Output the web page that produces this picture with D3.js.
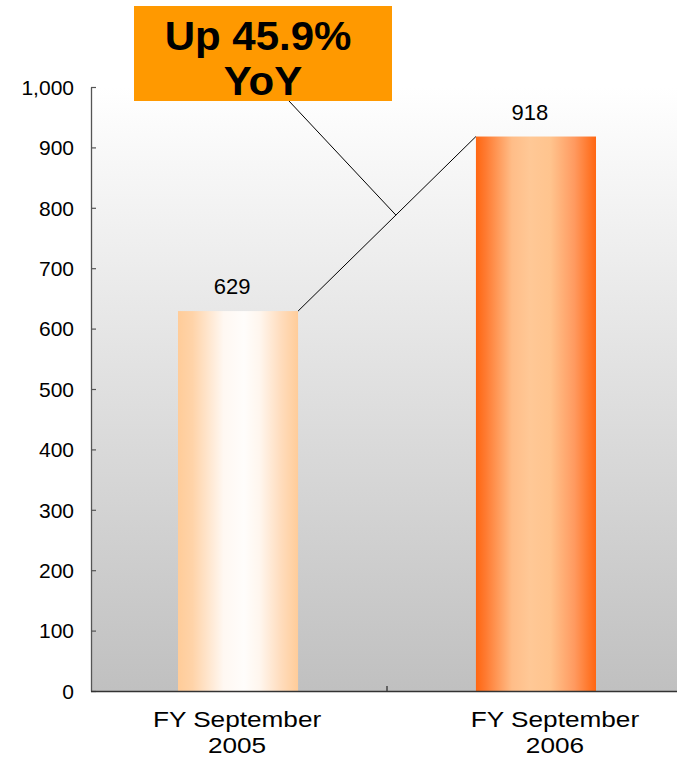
<!DOCTYPE html>
<html><head><meta charset="utf-8">
<script src="https://cdn.jsdelivr.net/npm/d3@7"></script>
<style>
body{margin:0;background:#fff;}
svg{display:block;font-family:Arial,"Liberation Sans",sans-serif;}
</style>
</head><body>
<svg id="c" width="677" height="765"></svg>
<script>
// ---- data ----
const categories = ["FY September 2005", "FY September 2006"];
const categoryLines = [["FY September", "2005"], ["FY September", "2006"]];
const values = [629, 918];
const yTicks = [0, 100, 200, 300, 400, 500, 600, 700, 800, 900, 1000];
const calloutLines = ["Up 45.9%", "YoY"];

// ---- layout ----
const svg = d3.select("#c");
const L = 91, R = 683, T = 87, B = 691;
const y = d3.scaleLinear().domain([0, 1000]).range([B, T]);
const x = d3.scaleBand().domain(categories).range([L, R]).paddingInner(0.597).paddingOuter(0.292);

const defs = svg.append("defs");
const bg = defs.append("linearGradient").attr("id", "bg").attr("x1", 0).attr("y1", 0).attr("x2", 0).attr("y2", 1);
bg.append("stop").attr("offset", "0%").attr("stop-color", "#ffffff");
bg.append("stop").attr("offset", "100%").attr("stop-color", "#c0c0c0");

const g1 = defs.append("linearGradient").attr("id", "bar0").attr("x1", 0).attr("y1", 0).attr("x2", 1).attr("y2", 0);
[[0, "#ffcc99"], [0.12, "#ffd3a8"], [0.38, "#fff8f2"], [0.55, "#fffdfb"], [0.68, "#fff6ee"], [0.86, "#ffdcbc"], [1, "#ffcc99"]]
  .forEach(([o, c]) => g1.append("stop").attr("offset", o).attr("stop-color", c));
const g2 = defs.append("linearGradient").attr("id", "bar1").attr("x1", 0).attr("y1", 0).attr("x2", 1).attr("y2", 0);
[[0, "#ff6611"], [0.08, "#ff7a30"], [0.3, "#ffbd88"], [0.45, "#ffc896"], [0.62, "#ffc48e"], [0.82, "#ff9a60"], [1, "#ff6611"]]
  .forEach(([o, c]) => g2.append("stop").attr("offset", o).attr("stop-color", c));

// plot background
svg.append("rect").attr("x", L).attr("y", T).attr("width", R - L).attr("height", B - T).attr("fill", "url(#bg)");

// bars
svg.selectAll("rect.bar").data(values).join("rect").attr("class", "bar")
  .attr("x", (d, i) => x(categories[i]))
  .attr("y", d => y(d))
  .attr("width", x.bandwidth())
  .attr("height", d => y(0) - y(d))
  .attr("fill", (d, i) => `url(#bar${i})`);

// value labels
svg.selectAll("text.val").data(values).join("text").attr("class", "val")
  .attr("x", (d, i) => x(categories[i]) + x.bandwidth() / 2 - 6)
  .attr("y", d => y(d) - 17)
  .attr("text-anchor", "middle")
  .attr("font-size", 22)
  .attr("fill", "#000")
  .text(d => d3.format(",")(d));

// y axis
const yAxis = svg.append("g").attr("transform", `translate(${L},0)`)
  .call(d3.axisLeft(y).tickValues(yTicks).tickSizeInner(-5).tickSizeOuter(0).tickPadding(17).tickFormat(d3.format(",")));
yAxis.select(".domain").attr("stroke", "#555").attr("stroke-width", 1.3);
yAxis.selectAll(".tick line").attr("stroke", "#555").attr("stroke-width", 1.2);
yAxis.selectAll(".tick text").attr("font-size", 21).attr("font-family", "Arial,'Liberation Sans',sans-serif").attr("fill", "#000").attr("dy", "0.35em");

// x axis line and category divider tick
svg.append("line").attr("x1", L).attr("x2", R).attr("y1", B + 0.5).attr("y2", B + 0.5).attr("stroke", "#333").attr("stroke-width", 1.6);
const step = x.step();
const divX = x(categories[1]) - (step - x.bandwidth()) / 2;
svg.append("line").attr("x1", divX).attr("x2", divX).attr("y1", B).attr("y2", B - 5).attr("stroke", "#444").attr("stroke-width", 1.5);

// category labels
const labelDx = [-1, 19];
categoryLines.forEach((lines, i) => {
  const cx = x(categories[i]) + x.bandwidth() / 2 + labelDx[i];
  lines.forEach((t, j) => {
    svg.append("text")
      .attr("transform", `translate(${cx},${727 + j * 26}) scale(1.19,1)`)
      .attr("text-anchor", "middle")
      .attr("font-size", 22)
      .attr("fill", "#000")
      .text(t);
  });
});

// connector between bar tops
const p1 = [x(categories[0]) + x.bandwidth(), y(values[0])];
const p2 = [x(categories[1]), y(values[1])];
svg.append("line").attr("x1", p1[0]).attr("y1", p1[1]).attr("x2", p2[0]).attr("y2", p2[1])
  .attr("stroke", "#000").attr("stroke-width", 1);
const t = 0.55;
const pm = [p1[0] + (p2[0] - p1[0]) * t, p1[1] + (p2[1] - p1[1]) * t];

// callout box
svg.append("rect").attr("x", 134).attr("y", 6).attr("width", 258).attr("height", 95).attr("fill", "#ff9900");
svg.append("line").attr("x1", 289).attr("y1", 101).attr("x2", pm[0]).attr("y2", pm[1]).attr("stroke", "#000").attr("stroke-width", 1);
calloutLines.forEach((s, j) => {
  svg.append("text")
    .attr("transform", `translate(${258 + j * 5},${50 + j * 45}) scale(1.05,1)`)
    .attr("text-anchor", "middle")
    .attr("font-size", 40)
    .attr("font-weight", "bold")
    .attr("fill", "#000")
    .text(s);
});
</script>
</body></html>
